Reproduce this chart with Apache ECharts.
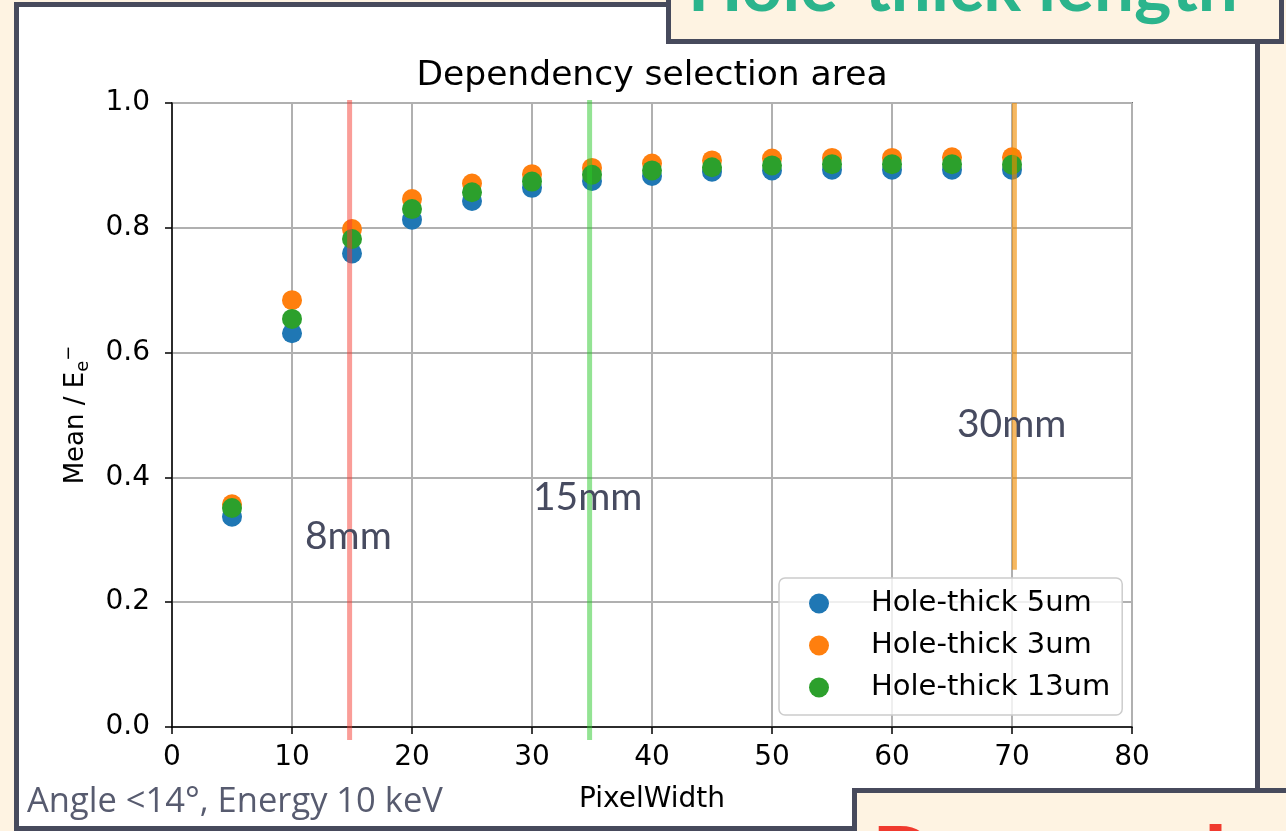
<!DOCTYPE html>
<html>
<head>
<meta charset="utf-8">
<script src="https://cdn.jsdelivr.net/npm/echarts@6/dist/echarts.min.js"></script>
<style>
  html, body { margin: 0; padding: 0; background: #fef3e2; }
  #chart { width: 1286px; height: 831px; }
</style>
</head>
<body>
<div id="chart"></div>
<script>
// 数据
const pixelWidth = [5, 10, 15, 20, 25, 30, 35, 40, 45, 50, 55, 60, 65, 70];
const thick5 = [0.337, 0.631, 0.759, 0.813, 0.843, 0.864, 0.875, 0.883, 0.890, 0.892, 0.893, 0.893, 0.893, 0.893];
const thick3 = [0.357, 0.684, 0.798, 0.846, 0.871, 0.886, 0.896, 0.903, 0.908, 0.911, 0.912, 0.912, 0.913, 0.913];
const thick13 = [0.351, 0.654, 0.782, 0.830, 0.857, 0.874, 0.885, 0.892, 0.897, 0.900, 0.902, 0.902, 0.902, 0.901];
const seriesNames = ['Hole-thick 5um', 'Hole-thick 3um', 'Hole-thick 13um'];

// 选区竖线
const markerX = [14.8, 34.8, 70.2];
const markerYLow = [-0.021, -0.021, 0.252];
const markerYHigh = [1.005, 1.005, 1.0];
const markerLabels = ['8mm', '15mm', '30mm'];

const colors = ['#1f77b4', '#ff7f0e', '#2ca02c'];
const markerColors = ['rgba(245,60,50,0.5)', 'rgba(40,200,40,0.5)', 'rgba(240,140,0,0.62)'];
const frameColor = '#474a5c';
const cream = '#fef3e2';
const font = 'DejaVu Sans';

const chart = echarts.init(document.getElementById('chart'));

const pointSeries = [thick5, thick3, thick13].map((vals, i) => ({
  name: seriesNames[i],
  type: 'scatter',
  symbolSize: 20,
  itemStyle: { color: colors[i], opacity: 1 },
  data: pixelWidth.map((x, k) => [x, vals[k]]),
  z: 2
}));

const lineSeries = markerX.map((x, i) => ({
  type: 'line',
  symbol: 'none',
  clip: false,
  silent: true,
  lineStyle: { color: markerColors[i], width: 5 },
  data: [[x, markerYLow[i]], [x, markerYHigh[i]]],
  z: 3
}));

// 标注文字位置（幻灯片上的注释）
const notePos = [[305, 536], [533, 497], [957, 424]];

const option = {
  animation: false,
  backgroundColor: cream,
  color: colors,
  title: {
    text: 'Dependency selection area',
    left: 652,
    top: 59,
    padding: 0,
    textAlign: 'center',
    textStyle: { fontFamily: font, fontSize: 34.5, fontWeight: 'normal', color: '#000' }
  },
  grid: { left: 172, right: 154, top: 103, bottom: 104, show: true, borderColor: '#000', borderWidth: 1.5 },
  legend: {
    data: seriesNames,
    orient: 'vertical',
    left: 779,
    top: 578,
    padding: [11, 12, 13, 30],
    itemGap: 13,
    itemWidth: 20,
    itemHeight: 20,
    icon: 'circle',
    backgroundColor: 'rgba(255,255,255,0.8)',
    borderColor: '#cccccc',
    borderWidth: 1.5,
    borderRadius: 6,
    textStyle: { fontFamily: font, fontSize: 29, color: '#000', lineHeight: 29, padding: [0, 0, 0, 37] }
  },
  xAxis: {
    type: 'value',
    min: 0, max: 80, interval: 10,
    name: 'PixelWidth',
    nameLocation: 'middle',
    nameGap: 59,
    nameTextStyle: { fontFamily: font, fontSize: 28, color: '#000' },
    axisLine: { lineStyle: { color: '#000', width: 1.5 } },
    axisTick: { show: true, length: 7, lineStyle: { color: '#000', width: 1.5 } },
    axisLabel: { fontFamily: font, fontSize: 28, color: '#000', margin: 17 },
    splitLine: { show: true, lineStyle: { color: '#b0b0b0', width: 2 } }
  },
  yAxis: {
    type: 'value',
    min: 0, max: 1, interval: 0.2,
    name: '{a|Mean / E}{b|e}{c|−}',
    nameLocation: 'middle',
    nameRotate: 90,
    nameGap: 80,
    nameTextStyle: {
      rich: {
        a: { fontFamily: font, fontSize: 26, color: '#000', lineHeight: 32, verticalAlign: 'middle' },
        b: { fontFamily: font, fontSize: 18, color: '#000', lineHeight: 32, verticalAlign: 'bottom' },
        c: { fontFamily: font, fontSize: 18, color: '#000', lineHeight: 32, verticalAlign: 'top' }
      }
    },
    axisLine: { show: true, lineStyle: { color: '#000', width: 1.5 } },
    axisTick: { show: true, length: 7, lineStyle: { color: '#000', width: 1.5 } },
    axisLabel: { fontFamily: font, fontSize: 28, color: '#000', margin: 22, formatter: v => v.toFixed(1) },
    splitLine: { show: true, lineStyle: { color: '#b0b0b0', width: 2 } }
  },
  graphic: [
    // 白色面板
    { type: 'rect', z: -10, shape: { x: 16.5, y: 4.5, width: 1241, height: 824 },
      style: { fill: '#fff', stroke: frameColor, lineWidth: 5 } },
    // 右上标题框
    { type: 'rect', z: 50, shape: { x: 668.5, y: -10, width: 613, height: 51.5 },
      style: { fill: cream, stroke: frameColor, lineWidth: 5 } },
    { type: 'text', z: 51, left: 688, top: -47,
      style: { text: 'Hole-thick length', fontFamily: 'Lato', fontWeight: 'bold', fontSize: 71, fill: '#2bb48c' } },
    // 右下框
    { type: 'rect', z: 50, shape: { x: 854.5, y: 790.5, width: 500, height: 100 },
      style: { fill: cream, stroke: frameColor, lineWidth: 5 } },
    { type: 'text', z: 51, left: 871, top: 816,
      style: { text: 'Research', fontFamily: 'Lato', fontWeight: 'bold', fontSize: 96, fill: '#f03a2e' } },
    // 左下说明
    { type: 'text', z: 51, left: 27, top: 785,
      style: { text: 'Angle <14°, Energy 10 keV', fontFamily: 'Open Sans', fontSize: 34.5, fill: '#575b6f' } }
  ].concat(markerLabels.map((t, i) => ({
    type: 'text', z: 60, x: notePos[i][0], y: notePos[i][1],
    style: { text: t, fontFamily: 'Lato', fontSize: 39, fill: '#474b60', verticalAlign: 'middle' }
  }))),
  series: pointSeries.concat(lineSeries)
};

chart.setOption(option);
</script>
</body>
</html>
